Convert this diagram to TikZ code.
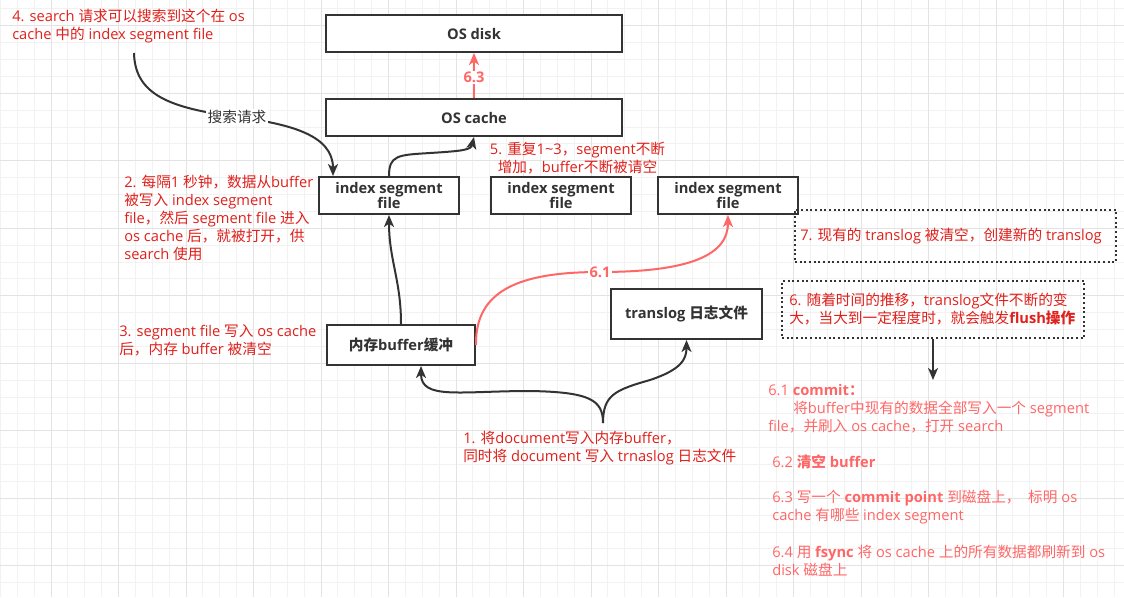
\documentclass[tikz,border=0pt]{standalone}
\usepackage{fontspec}
\setmainfont{Open Sans}
\newfontfamily\cjkfam{Noto Sans CJK SC}
\newfontfamily\latinfam{Open Sans}
\newcount\cjkc
\newcommand{\cjkrange}[2]{\cjkc=#1 \loop\XeTeXcharclass\cjkc=1 \advance\cjkc by 1 \ifnum\cjkc<#2 \repeat}
\cjkrange{"3000}{"3040}
\cjkrange{"4E00}{"A000}
\cjkrange{"FF00}{"FFF0}
\XeTeXinterchartokenstate=1
\XeTeXinterchartoks 0 1 = {\cjkfam}
\XeTeXinterchartoks 4095 1 = {\cjkfam}
\XeTeXinterchartoks 1 0 = {\latinfam}
\XeTeXinterchartoks 1 4095 = {\latinfam}
\usetikzlibrary{arrows.meta}
\definecolor{ink}{HTML}{333333}
\definecolor{nred}{HTML}{E0201B}
\definecolor{lred}{HTML}{FF6666}
\definecolor{gminor}{HTML}{F2F2F2}
\definecolor{gmajor}{HTML}{E3E3E3}
\newcommand{\nf}{\fontsize{11pt}{13.5pt}\selectfont}
\begin{document}
\begin{tikzpicture}[x=0.75pt,y=-0.75pt,
  box/.style={draw=ink, line width=1.5pt, fill=white, font=\nf\bfseries, text=ink, align=center, inner sep=0pt},
  dotbox/.style={draw=ink, line width=1.5pt, dotted, inner sep=0pt},
  note/.style={anchor=north west, inner sep=0pt, align=left, font=\nf, text=nred, execute at begin node=\strut},
  lnote/.style={note, text=lred},
  arr/.style={draw=ink, line width=1.5pt, -{Stealth[length=9pt,width=7.5pt,inset=2.5pt]}},
  rarr/.style={draw=lred, line width=1.5pt, -{Stealth[length=9pt,width=7.5pt,inset=2.5pt]}},
  elabel/.style={fill=white, inner sep=1pt, font=\nf, text=ink},
  rlabel/.style={fill=white, inner sep=1pt, font=\nf\bfseries, text=lred}
]
\useasboundingbox (0,0) rectangle (1124,597);
\fill[white] (0,0) rectangle (1124,597);
% grid
\foreach \i in {0,...,67} \draw[gminor, line width=0.75pt] ({0.4+16.875*\i},0) -- ++(0,597);
\foreach \i in {0,...,35} \draw[gminor, line width=0.75pt] (0,{8.9+16.875*\i}) -- ++(1124,0);
\foreach \i in {0,...,16} \draw[gmajor, line width=0.75pt] ({51+67.5*\i},0) -- ++(0,597);
\foreach \i in {0,...,8} \draw[gmajor, line width=0.75pt] (0,{25.8+67.5*\i}) -- ++(1124,0);

% boxes
\node[box, minimum width=222pt, minimum height=27.75pt] (disk) at (474,33.5) {OS disk};
\node[box, minimum width=222pt, minimum height=27.75pt] (cache) at (474,117.5) {OS cache};
\node[box, minimum width=105pt, minimum height=27.75pt] (seg1) at (389,195.5) {index segment\\[-2.5pt]file};
\node[box, minimum width=105pt, minimum height=27.75pt] (seg2) at (561,195.5) {index segment\\[-2.5pt]file};
\node[box, minimum width=105pt, minimum height=27.75pt] (seg3) at (728,195.5) {index segment\\[-2.5pt]file};
\node[box, minimum width=111pt, minimum height=30pt] (buf) at (401,345) {内存buffer缓冲};
\node[box, minimum width=113.25pt, minimum height=37.5pt] (tlog) at (686.5,314) {translog 日志文件};
\node[dotbox, minimum width=240.75pt, minimum height=39pt] (d7) at (955.5,236) {};
\node[dotbox, minimum width=226.5pt, minimum height=42.75pt] (d6) at (933,309.5) {};

% notes
\node[note] (n4) at (12,8.5) {4. search 请求可以搜索到这个在 os\\cache 中的 index segment file};
\node[note] (n2) at (124,175.2) {2. 每隔1 秒钟，数据从buffer\\被写入 index segment\\file，然后 segment file 进入\\os cache 后，就被打开，供\\search 使用};
\node[note] (n3) at (119,324.2) {3. segment file 写入 os cache\\后，内存 buffer 被清空};
\node[note, anchor=north, align=center] (n5) at (577.5,141.9) {5. 重复1\textasciitilde3，segment不断\\增加，buffer不断被请空};
\node[note] (n7) at (800,227.6) {7. 现有的 translog 被清空，创建新的 translog};
\node[note] (n6) at (789,292.6) {6. 随着时间的推移，translog文件不断的变\\大，当大到一定程度时，就会触发\textbf{flush操作}};
\node[note] (n1) at (463,431.2) {1. 将document写入内存buffer，\\同时将 document 写入 trnaslog 日志文件};
\node[lnote] (n61) at (768,383.6) {6.1 \textbf{commit：}\\\hspace*{18.75pt}将buffer中现有的数据全部写入一个 segment\\file，并刷入 os cache，打开 search};
\node[lnote] (n62) at (772,454.6) {6.2 \textbf{清空 buffer}};
\node[lnote] (n63) at (772,490.2) {6.3 写一个 \textbf{commit point} 到磁盘上，\ \ 标明 os\\cache 有哪些 index segment};
\node[lnote] (n64) at (772,544.6) {6.4 用 \textbf{fsync} 将 os cache 上的所有数据都刷新到 os\\disk 磁盘上};

% connectors
\coordinate (s4) at (134,53);
\draw[arr] (s4) .. controls (135,95) and (170,108) .. (237,117)
  node[elabel] (lq) {搜索请求}
  .. controls (290,124) and (333,135) .. ([xshift=11.25pt]seg1.north west);
\draw[arr] (seg1.north) .. controls (389,155) and (398,155) .. (430,153)
  .. controls (462,151) and (471,150) .. (cache.south);
\draw[arr] (buf.north) .. controls (401,280) and (389,260) .. (seg1.south);
\draw[rarr] (buf.east) .. controls (475,290) and (520,272) .. (600,272)
  node[rlabel] (l61) {6.1}
  .. controls (690,272) and (728,255) .. (seg3.south);
\draw[rarr] (cache.north) -- (disk.south) node[rlabel, pos=0.45] (l63) {6.3};
\coordinate (d1) at (603,423);
\draw[arr] (d1) .. controls (603,400) and (590,392) .. (530,391)
  .. controls (460,391) and (421,400) .. ([xshift=15pt]buf.south);
\draw[arr] (d1) .. controls (603,395) and (615,390) .. (650,380)
  .. controls (680,370) and (686.5,360) .. (tlog.south);
\coordinate (a6) at (933,380);
\draw[arr] (d6.south) -- (a6);
\end{tikzpicture}
\end{document}
